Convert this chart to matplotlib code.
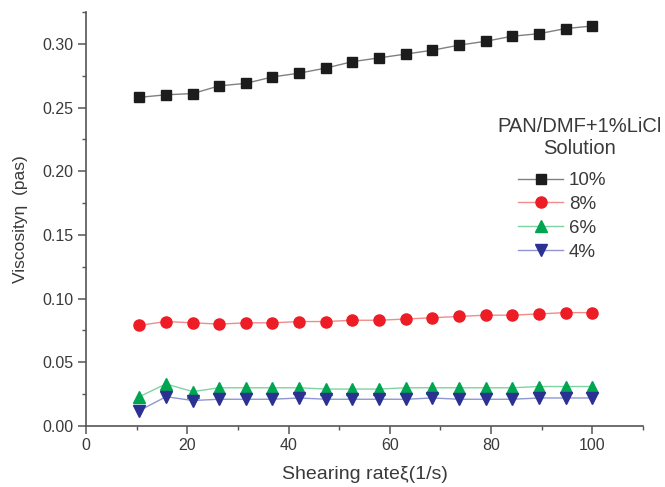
import matplotlib
matplotlib.use('Agg')
import matplotlib.pyplot as plt
from matplotlib.ticker import MultipleLocator

plt.rcParams['font.family'] = ['Liberation Sans', 'DejaVu Sans']

shear_rate = [10.5, 15.8, 21.1, 26.3, 31.6, 36.8, 42.1, 47.4, 52.6,
              57.9, 63.2, 68.4, 73.7, 78.9, 84.2, 89.5, 94.7, 100.0]

visc_10 = [0.258, 0.260, 0.261, 0.267, 0.269, 0.274, 0.277, 0.281, 0.286,
           0.289, 0.292, 0.295, 0.299, 0.302, 0.306, 0.308, 0.312, 0.314]
visc_8 = [0.079, 0.082, 0.081, 0.080, 0.081, 0.081, 0.082, 0.082, 0.083,
          0.083, 0.084, 0.085, 0.086, 0.087, 0.087, 0.088, 0.089, 0.089]
visc_6 = [0.023, 0.033, 0.027, 0.030, 0.030, 0.030, 0.030, 0.029, 0.029,
          0.029, 0.030, 0.030, 0.030, 0.030, 0.030, 0.031, 0.031, 0.031]
visc_4 = [0.012, 0.023, 0.020, 0.021, 0.021, 0.021, 0.022, 0.021, 0.021,
          0.021, 0.021, 0.022, 0.021, 0.021, 0.021, 0.022, 0.022, 0.022]

labels = ['10%', '8%', '6%', '4%']
text_color = '#3a3a3a'

fig = plt.figure(figsize=(6.65, 4.87), dpi=100)
ax = fig.add_axes([86 / 665, 61 / 487, (643 - 86) / 665, (426 - 12) / 487])

# series: (values, marker, marker colour, line colour, size)
series = [
    (visc_10, 's', '#1c1c1c', '#808080', 7),
    (visc_8, 'o', '#ee1c24', '#f28b8b', 8),
    (visc_6, '^', '#00a551', '#7fd3a3', 8),
    (visc_4, 'v', '#2b3192', '#9096d2', 8),
]
handles = []
for (vals, mk, mc, lc, ms), lab in zip(series, labels):
    h, = ax.plot(shear_rate, vals, color=lc, lw=1.0, marker=mk, ms=ms,
                 mfc=mc, mec=mc, label=lab)
    handles.append(h)

ax.set_xlim(0, 110)
ax.set_ylim(0, 0.325)
ax.xaxis.set_minor_locator(MultipleLocator(10))
ax.yaxis.set_minor_locator(MultipleLocator(0.025))
ax.set_xticks([0, 20, 40, 60, 80, 100])
ax.set_yticks([0.0, 0.05, 0.10, 0.15, 0.20, 0.25, 0.30])
ax.set_yticklabels(['0.00', '0.05', '0.10', '0.15', '0.20', '0.25', '0.30'])

for side in ['top', 'right']:
    ax.spines[side].set_visible(False)
for side in ['left', 'bottom']:
    ax.spines[side].set_color('#555555')
    ax.spines[side].set_linewidth(1.2)
ax.tick_params(which='major', direction='out', length=6, width=1.1,
               colors='#555555', labelcolor=text_color, labelsize=11.5, pad=3)
ax.tick_params(which='minor', direction='out', length=3, width=1.0, colors='#555555')

ax.set_xlabel('Shearing rate\u03be(1/s)', fontsize=14, color=text_color, labelpad=9)
ax.set_ylabel('Viscosity\u03b7  (pas)', fontsize=12.5, color=text_color, labelpad=10)

fig.text(580 / 665, 1 - 138 / 487, 'PAN/DMF+1%LiCl\nSolution', ha='center', va='center',
         fontsize=14.5, color=text_color, multialignment='center', linespacing=1.2)

leg = ax.legend(handles=handles, loc='upper left', bbox_to_anchor=(518 / 665, 1 - 172 / 487),
                bbox_transform=fig.transFigure, frameon=False, fontsize=13.5,
                handlelength=2.4, handletextpad=0.3, labelspacing=0.36,
                borderpad=0, borderaxespad=0)
for t in leg.get_texts():
    t.set_color(text_color)

fig.savefig('out.png', dpi=100)
